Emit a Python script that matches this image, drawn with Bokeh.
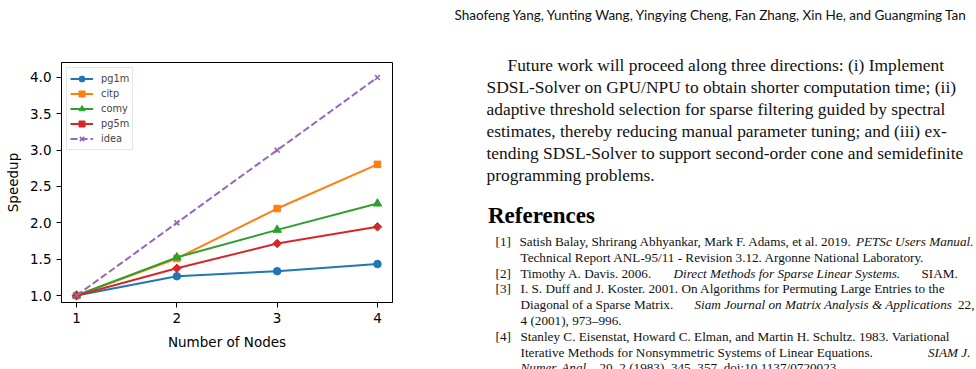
import math
from bokeh.plotting import figure
from bokeh.models import Range1d, FixedTicker, Legend, LegendItem, ColumnDataSource, CustomJSTickFormatter
from bokeh.layouts import row, column
from bokeh.embed import file_html
from bokeh.resources import INLINE
from bokeh.core.properties import value

# ---------------- data ----------------
nodes = [1, 2, 3, 4]
pg1m = [1.00, 1.265, 1.335, 1.433]
citp = [1.00, 1.51, 2.197, 2.805]
comy = [1.00, 1.525, 1.903, 2.265]
pg5m = [1.00, 1.374, 1.716, 1.945]
idea = [1.0, 2.0, 3.0, 4.0]
series_names = ["pg1m", "citp", "comy", "pg5m", "idea"]
x_ticks = [1, 2, 3, 4]
y_ticks = [1.0, 1.5, 2.0, 2.5, 3.0, 3.5, 4.0]
x_label = "Number of Nodes"
y_label = "Speedup"

header_text = "Shaofeng Yang, Yunting Wang, Yingying Cheng, Fan Zhang, Xin He, and Guangming Tan"
para_lines = [
    "Future work will proceed along three directions: (i) Implement",
    "SDSL-Solver on GPU/NPU to obtain shorter computation time; (ii)",
    "adaptive threshold selection for sparse filtering guided by spectral",
    "estimates, thereby reducing manual parameter tuning; and (iii) ex-",
    "tending SDSL-Solver to support second-order cone and semidefinite",
    "programming problems.",
]
heading_text = "References"
ref_numbers = ["[1]", "[2]", "[3]", "[4]"]

# ---------------- styles ----------------
FONT = "DejaVu Sans"
colors = ["#1f77b4", "#ff7f0e", "#2ca02c", "#d62728", "#9467bd"]
markers = ["circle", "square", "triangle", "square", "x"]
msizes = [7.5, 6.5, 8.5, 6, 7]
mangles = [0, 0, 0, math.pi / 4, 0]
dashes = ["solid", "solid", "solid", "solid", "7 3"]

p = figure(frame_width=331, frame_height=240,
           min_border_left=61, min_border_top=62, min_border_right=48, min_border_bottom=67,
           x_range=Range1d(0.85, 4.15), y_range=Range1d(0.904, 4.206),
           output_backend="svg", toolbar_location=None)
p.grid.visible = False
p.outline_line_color = "black"
p.outline_line_width = 1
p.outline_line_alpha = 1
p.background_fill_color = "white"
p.border_fill_color = "white"

items = []
all_series = [pg1m, citp, comy, pg5m, idea]
for i, ys in enumerate(all_series):
    src = ColumnDataSource(dict(x=nodes, y=ys))
    lr = p.line("x", "y", source=src, line_color=colors[i], line_width=2, line_dash=dashes[i])
    if markers[i] == "x":
        sr = p.scatter("x", "y", source=src, marker="x", size=msizes[i],
                       line_color=colors[i], line_width=1.6)
    else:
        sr = p.scatter("x", "y", source=src, marker=markers[i], size=msizes[i], angle=mangles[i],
                       fill_color=colors[i], line_color=colors[i], line_width=1)
    items.append(LegendItem(label=series_names[i], renderers=[lr, sr]))

legend = Legend(items=items, location="top_left", margin=5, padding=3, spacing=0,
                glyph_width=23, glyph_height=15, label_height=15, label_standoff=8,
                label_text_font=FONT, label_text_font_size="9.8px",
                border_line_color="#cccccc", border_line_width=1,
                background_fill_color="white", background_fill_alpha=0.8)
p.add_layout(legend)

p.xaxis.ticker = FixedTicker(ticks=x_ticks)
p.yaxis.ticker = FixedTicker(ticks=y_ticks)
p.yaxis.formatter = CustomJSTickFormatter(code="return tick.toFixed(1);")
for ax in [p.xaxis, p.yaxis]:
    ax.major_tick_out = 5
    ax.major_tick_in = 0
    ax.minor_tick_out = 0
    ax.minor_tick_in = 0
    ax.major_tick_line_color = "black"
    ax.axis_line_color = "black"
    ax.major_label_text_font = FONT
    ax.major_label_text_font_size = "13.5px"
    ax.major_label_text_color = "black"
    ax.axis_label_text_font = FONT
    ax.axis_label_text_font_size = "13.5px"
    ax.axis_label_text_font_style = "normal"
    ax.axis_label_text_color = "black"
    ax.major_label_standoff = 5
p.xaxis.axis_label = x_label
p.yaxis.axis_label = y_label
p.xaxis.axis_label_standoff = 8
p.yaxis.axis_label_standoff = 6

# ---------------- text panel ----------------
t = figure(frame_width=536, frame_height=369, min_border=0,
           x_range=Range1d(0, 536), y_range=Range1d(369, 0),
           x_axis_location=None, y_axis_location=None,
           output_backend="svg", toolbar_location=None)
t.grid.visible = False
t.outline_line_color = None
t.background_fill_color = "white"
t.border_fill_color = "white"

SERIF = "Liberation Serif"
TXT = "#111111"
REF_SIZE = "13.2px"

# header
t.text(x=[14], y=[14], text=[header_text], text_font=value("Lato"), text_font_size="13.5px",
       text_baseline="middle", text_color=TXT)

# paragraph
para_x = [67] + [46] * (len(para_lines) - 1)
para_y = [64 + 22 * i for i in range(len(para_lines))]
t.text(x=para_x, y=para_y, text=para_lines, text_font=value(SERIF), text_font_size="17.4px",
       text_baseline="middle", text_color=TXT)

# heading
t.text(x=[47.5], y=[215], text=[heading_text], text_font=value(SERIF), text_font_size="23px",
       text_font_style="bold", text_baseline="middle", text_color="black")

# references
ly = [241 + 15.8 * i for i in range(9)]
t.text(x=[55] * 4, y=[ly[0], ly[2], ly[3], ly[6]], text=ref_numbers, text_font=value(SERIF),
       text_font_size=REF_SIZE, text_baseline="middle", text_color=TXT)

roman_left = [
    (79, ly[0], "Satish Balay, Shrirang Abhyankar, Mark F. Adams, et al. 2019."),
    (80, ly[1], "Technical Report ANL-95/11 - Revision 3.12. Argonne National Laboratory."),
    (80, ly[2], "Timothy A. Davis. 2006."),
    (481, ly[2], "SIAM."),
    (80, ly[3], "I. S. Duff and J. Koster. 2001.  On Algorithms for Permuting Large Entries to the"),
    (80, ly[4], "Diagonal of a Sparse Matrix."),
    (80, ly[5], "4 (2001), 973\u2013996."),
    (80, ly[6], "Stanley C. Eisenstat, Howard C. Elman, and Martin H. Schultz. 1983.  Variational"),
    (80, ly[7], "Iterative Methods for Nonsymmetric Systems of Linear Equations."),
    (159, ly[8], "20, 2 (1983), 345\u2013357. doi:10.1137/0720023."),
]
t.text(x=[r[0] for r in roman_left], y=[r[1] for r in roman_left], text=[r[2] for r in roman_left],
       text_font=value(SERIF), text_font_size=REF_SIZE, text_baseline="middle", text_color=TXT)

roman_right = [(534, ly[4], "22,")]
t.text(x=[r[0] for r in roman_right], y=[r[1] for r in roman_right], text=[r[2] for r in roman_right],
       text_font=value(SERIF), text_font_size=REF_SIZE, text_baseline="middle", text_align="right",
       text_color=TXT)

ital_left = [
    (233, ly[2], "Direct Methods for Sparse Linear Systems."),
    (254, ly[4], "Siam Journal on Matrix Analysis & Applications"),
    (80, ly[8], "Numer. Anal."),
]
t.text(x=[r[0] for r in ital_left], y=[r[1] for r in ital_left], text=[r[2] for r in ital_left],
       text_font=value(SERIF), text_font_size=REF_SIZE, text_font_style="italic",
       text_baseline="middle", text_color=TXT)

ital_right = [
    (533, ly[0], "PETSc Users Manual."),
    (530, ly[7], "SIAM J."),
]
t.text(x=[r[0] for r in ital_right], y=[r[1] for r in ital_right], text=[r[2] for r in ital_right],
       text_font=value(SERIF), text_font_size=REF_SIZE, text_font_style="italic",
       text_baseline="middle", text_align="right", text_color=TXT)

layout = row(column(p), column(t), spacing=0)
open("out.html", "w").write(file_html(layout, INLINE))
